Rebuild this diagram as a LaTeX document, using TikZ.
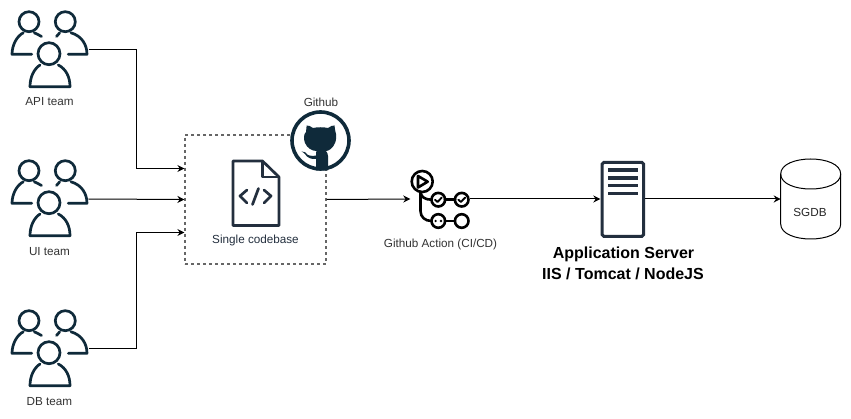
\documentclass[tikz,border=0pt]{standalone}
\usepackage{fontspec}
\setmainfont{Liberation Sans}
\usetikzlibrary{arrows.meta}
\definecolor{ink}{HTML}{232F3E}
\definecolor{hub}{HTML}{0F2A3A}
\definecolor{lbl}{HTML}{333333}
\tikzset{
  x=1pt,y=-1pt,
  icon/.style={draw=hub,line width=2.7pt,line cap=round,line join=round,fill=none},
  slot/.style={draw=none,fill=none,inner sep=0pt,outer sep=0pt},
  lab/.style={text=lbl,font=\fontsize{11.7}{14}\selectfont,inner sep=0pt},
  title/.style={text=black,font=\fontsize{16}{20}\selectfont\bfseries,inner sep=0pt},
  link/.style={draw=black,line width=1pt,-{Stealth[length=7pt,width=7pt]}},
  pics/teamicon/.style={code={
    \draw[icon] (-21,-28.3) circle[radius=10];
    \draw[icon] (15.3,-28.3) circle[radius=10];
    \draw[icon] (-1,3.7) circle[radius=11];
    \draw[icon] (-18.3,4.3) -- (-38,4.3) .. controls (-38,-5) and (-33,-14) .. (-26.7,-17.2);
    \draw[icon] (-15.7,-17.2) .. controls (-13,-16) and (-11,-15) .. (-8.5,-13.5);
    \draw[icon] (18.3,4.3) -- (37,4.3) .. controls (37,-5) and (32,-14) .. (21,-17.2);
    \draw[icon] (6.5,-13.5) .. controls (7.5,-15) and (8.5,-16) .. (9.7,-17.2);
    \draw[icon] (-20,36.7) -- (20,36.7) .. controls (20,27) and (16,19) .. (8.3,15);
    \draw[icon] (-20,36.7) .. controls (-20,27) and (-16,19) .. (-10,15);
  }}
}
\begin{document}
\begin{tikzpicture}
\useasboundingbox (0,0) rectangle (851,419);
\fill[white] (0,0) rectangle (851,419);

% slots for the icons
\node[slot,minimum width=77pt,minimum height=76pt] (api) at (50,50) {};
\node[slot,minimum width=77pt,minimum height=76pt] (ui) at (50,199) {};
\node[slot,minimum width=77pt,minimum height=76pt] (db) at (50,349) {};
\node[draw=black!60,dash pattern=on 3pt off 3pt,line width=1.2pt,fill=white,minimum width=141pt,minimum height=129pt,inner sep=0pt] (box) at (255.5,199.5) {};
\node[slot,minimum width=60pt,minimum height=44pt] (ci) at (440.3,199) {};
\node[slot,minimum width=45pt,minimum height=77pt] (srv) at (622.8,199) {};
\node[slot,minimum width=60pt,minimum height=80pt] (sgdb) at (810.7,199) {};

% connectors
\draw[link] (api.east) -- ++(48,0) |- ([yshift=31pt]box.west);
\draw[link] (ui.east) -- (box.west);
\draw[link] (db.east) -- ++(48,0) |- ([yshift=-33pt]box.west);
\draw[link] (box.east) -- (ci.west);
\draw[link] (ci.east) -- (srv.west);
\draw[link] (srv.east) -- (sgdb.west);

% teams
\pic at (api) {teamicon};
\pic at (ui) {teamicon};
\pic at (db) {teamicon};
\node[lab] (apil) at (49.5,102) {API team};
\node[lab] (uil) at (49.5,252) {UI team};
\node[lab] (dbl) at (49.5,402) {DB team};

% file icon
\draw[draw=ink,line width=2.7pt,line join=round,fill=white]
  (233,161) -- (262.5,161) -- (279,177) -- (279,225.5) -- (233,225.5) -- cycle;
\draw[draw=ink,line width=2.7pt,line join=round] (262.5,161) -- (262.5,177) -- (279,177);
\draw[draw=ink,line width=2.7pt,line cap=round,line join=round]
  (247,190) -- (240,196) -- (247,203)
  (252.5,204.5) -- (258.5,188.5)
  (264,190) -- (271,196) -- (264,203);
\node[lab,text=ink] (codel) at (255.5,240.5) {Single codebase};

% github
\node[draw=hub,line width=3.6pt,fill=white,circle,minimum size=57pt,inner sep=0pt] (hubc) at (320.5,140.5) {};
\fill[hub] (306.5,127) .. controls (306.5,125) and (306.5,126) .. (306.5,125.5)
  .. controls (308,125) and (311,126.5) .. (313,128)
  .. controls (317,127) and (324,127) .. (328,128)
  .. controls (330,126.5) and (333,125) .. (334.5,125.5)
  .. controls (334.5,128) and (335.5,131) .. (335.5,132)
  .. controls (337,135) and (336,141) .. (335,143)
  .. controls (333,148) and (329,151) .. (326,151)
  .. controls (327,152) and (328,154) .. (328,156)
  -- (328,170.5) -- (316,170.5) -- (316,159)
  .. controls (312,159.5) and (307,158) .. (305,154)
  .. controls (304,153) and (302,151.5) .. (301.5,151.5)
  .. controls (304,151) and (306,152.5) .. (308,155)
  .. controls (310,156) and (314,156) .. (316,155.5)
  .. controls (316,153.5) and (316,152) .. (316.5,151)
  .. controls (312,151) and (307,148) .. (305,143)
  .. controls (303.5,139) and (303.5,134) .. (306,132) -- cycle;
\node[lab] (hubl) at (321,102) {Github};

% ci/cd icon
\begin{scope}[draw=black,line width=2.6pt,line cap=round,line join=round]
  \draw (422.2,181.5) circle[radius=10.5];
  \draw (418,176) -- (427.7,181.7) -- (418,187.5) -- cycle;
  \draw (420.5,192) -- (420.5,211) .. controls (420.5,217) and (425,221) .. (431.5,221);
  \draw (420.5,192) .. controls (421,197) and (425,199.7) .. (431.5,199.7);
  \draw (438.3,199.7) circle[radius=6.8];
  \draw (461.7,199.7) circle[radius=6.8];
  \draw (438.3,221) circle[radius=6.8];
  \draw (461.7,221) circle[radius=6.8];
  \draw (445,199.7) -- (455,199.7);
  \draw (445,221) -- (455,221);
  \draw[line width=1.9pt] (435,199.7) -- (437.5,202) -- (441.8,197.5);
  \draw[line width=1.9pt] (458.4,199.7) -- (460.9,202) -- (465.2,197.5);
\end{scope}
\fill[black] (435.6,221) circle[radius=1.3] (441,221) circle[radius=1.3];
\node[lab] (cil) at (440.5,244) {Github Action (CI/CD)};

% server
\draw[draw=ink,line width=3pt,rounded corners=1.5pt,fill=white] (602.2,162.5) rectangle (643.5,236.3);
\draw[draw=ink,line width=3.2pt]
  (608.2,170) -- (637.6,170) (608.2,178) -- (637.6,178)
  (608.2,185.5) -- (637.6,185.5) (608.2,193.3) -- (637.6,193.3);
\node[title] (srv1) at (623.5,254.5) {Application Server};
\node[title] (srv2) at (623,273.5) {IIS / Tomcat / NodeJS};

% database
\draw[draw=black,line width=1pt,fill=white]
  (780.7,174) .. controls (780.7,154) and (840.7,154) .. (840.7,174)
  -- (840.7,224) .. controls (840.7,244) and (780.7,244) .. (780.7,224) -- cycle;
\draw[draw=black,line width=1pt] (780.7,174) .. controls (780.7,194) and (840.7,194) .. (840.7,174);
\node[lab,text=black!85] (sgdbl) at (810,212.5) {SGDB};
\end{tikzpicture}
\end{document}
